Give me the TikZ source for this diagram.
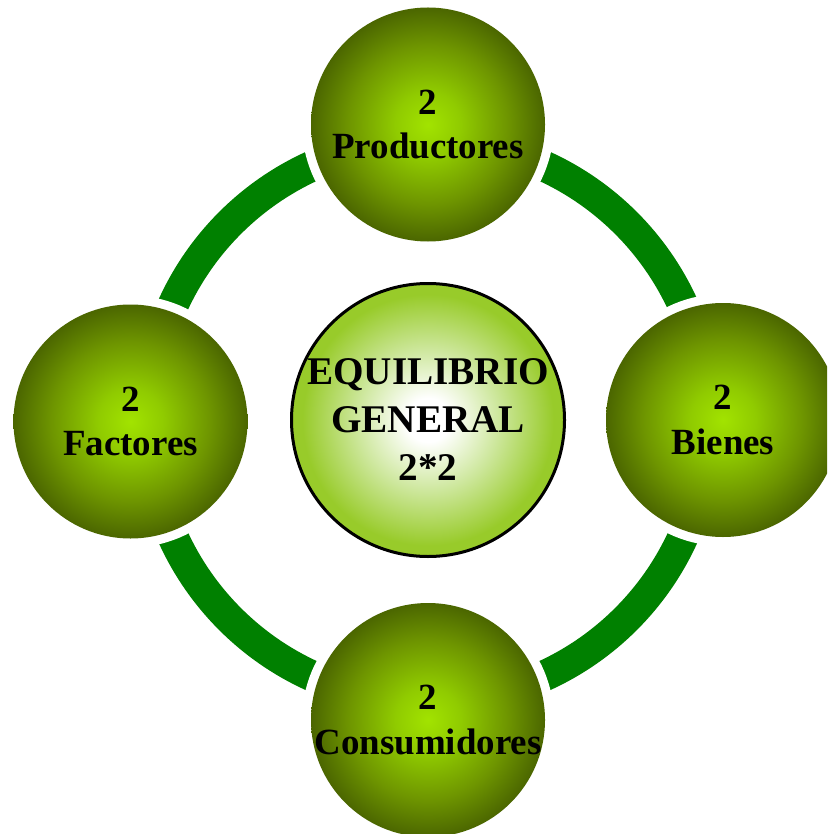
\documentclass[tikz,border=0pt]{standalone}
\usepackage{fontspec}
\setmainfont{Liberation Serif}
\definecolor{ringgreen}{HTML}{008000}
\definecolor{bA}{HTML}{A2E300}
\definecolor{bB}{HTML}{90CB00}
\definecolor{bC}{HTML}{6E9500}
\definecolor{bD}{HTML}{4B6600}
\definecolor{cA}{HTML}{FFFFFF}
\definecolor{cB}{HTML}{CDE79C}
\definecolor{cC}{HTML}{98CB2A}
\pgfdeclareradialshading{greenball}{\pgfpoint{0bp}{0bp}}{color(0bp)=(bA); color(7bp)=(bB); color(17bp)=(bC); color(25bp)=(bD); color(50bp)=(bD)}
\pgfdeclareradialshading{centerball}{\pgfpoint{0bp}{0bp}}{color(0bp)=(cA); color(4bp)=(cA); color(13bp)=(cB); color(23bp)=(cC); color(50bp)=(cC)}
\begin{document}
\begin{tikzpicture}[x=0.75pt,y=-0.75pt,
  ball/.style={circle, minimum size=175.5pt, inner sep=-20pt, shading=greenball,
    preaction={draw=white, line width=13.5pt},
    align=center, font=\fontsize{27.7}{33.2}\selectfont\bfseries},
  hub/.style={circle, minimum size=204.75pt, inner sep=-20pt, shading=centerball,
    draw=black, line width=2.25pt,
    align=center, font=\fontsize{29.4}{36}\selectfont\bfseries},
  ring/.style={draw=ringgreen, line width=23.25pt}]
\clip (0,0) rectangle (827,834);
\fill[white] (0,0) rectangle (827,834);
\node[hub] (eq) at (428,420) {EQUILIBRIO\\GENERAL\\2*2};
\draw[ring] (428,421) circle[radius=280];
\node[ball] (prod) at (428,124.5) {2\\Productores};
\node[ball] (fact) at (130.5,421.5) {2\\Factores};
\node[ball] (bien) at (723,420) {2\\Bienes};
\node[ball] (cons) at (428,720) {2\\Consumidores};
\end{tikzpicture}
\end{document}
